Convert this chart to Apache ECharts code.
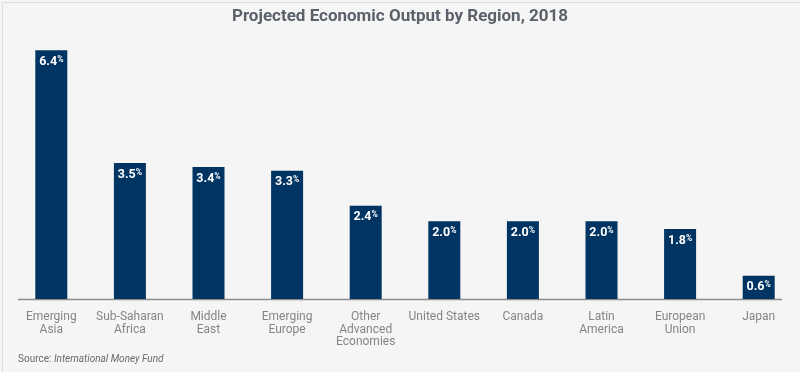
<!DOCTYPE html>
<html><head><meta charset="utf-8">
<script src="https://cdn.jsdelivr.net/npm/echarts@6/dist/echarts.min.js"></script>
<style>html,body{margin:0;padding:0;background:#f5f5f5}#c{width:800px;height:372px}</style>
</head><body><div id="c"></div>
<script>
const categories = ['Emerging\nAsia','Sub-Saharan\nAfrica','Middle\nEast','Emerging\nEurope','Other\nAdvanced\nEconomies','United States','Canada','Latin\nAmerica','European\nUnion','Japan'];
const values = [6.4, 3.5, 3.4, 3.3, 2.4, 2.0, 2.0, 2.0, 1.8, 0.6];
const titleText = 'Projected Economic Output by Region, 2018';
const FONT = 'Roboto, sans-serif';
const chart = echarts.init(document.getElementById('c'), null, {renderer:'canvas'});
chart.setOption({
  backgroundColor:'#f5f5f5',
  animation:false,
  title:{text:titleText,left:'center',top:3,textStyle:{fontFamily:FONT,fontSize:17,fontWeight:'bold',color:'#5b6169'}},
  grid:{left:12,right:2,top:27,bottom:73},
  xAxis:{type:'category',data:categories,axisLine:{show:false},axisTick:{show:false},
    axisLabel:{interval:0,color:'#858585',fontFamily:FONT,fontSize:12,lineHeight:12.5,margin:12}},
  yAxis:{type:'value',min:0,max:7,show:false,splitLine:{show:false}},
  series:[{type:'bar',data:values,barWidth:32,itemStyle:{color:'#003462'},
    label:{show:true,position:'insideTop',distance:5,
      formatter:p=>'{v|'+p.value.toFixed(1)+'}{p|%}',
      rich:{v:{fontFamily:FONT,fontSize:12.5,fontWeight:'bold',color:'#fff'},
            p:{fontFamily:FONT,fontSize:8.5,fontWeight:'bold',color:'#fff',padding:[0,0,4,0]}}}}],
  graphic:[
    {type:'rect',left:0,top:0,shape:{width:799,height:371},style:{fill:'none',stroke:'#dcdcdc',lineWidth:1},silent:true},
    {type:'line',shape:{x1:18,y1:299.5,x2:782,y2:299.5},style:{stroke:'#8c8c8c',lineWidth:1.5},silent:true},
    {type:'text',left:18,top:354,style:{rich:{a:{fontFamily:FONT,fontSize:10,fill:'#6a6a6a'},b:{fontFamily:FONT,fontSize:10,fontStyle:'italic',fill:'#6a6a6a'}},text:'{a|Source: }{b|International Money Fund}'}}
  ]
});
</script></body></html>
